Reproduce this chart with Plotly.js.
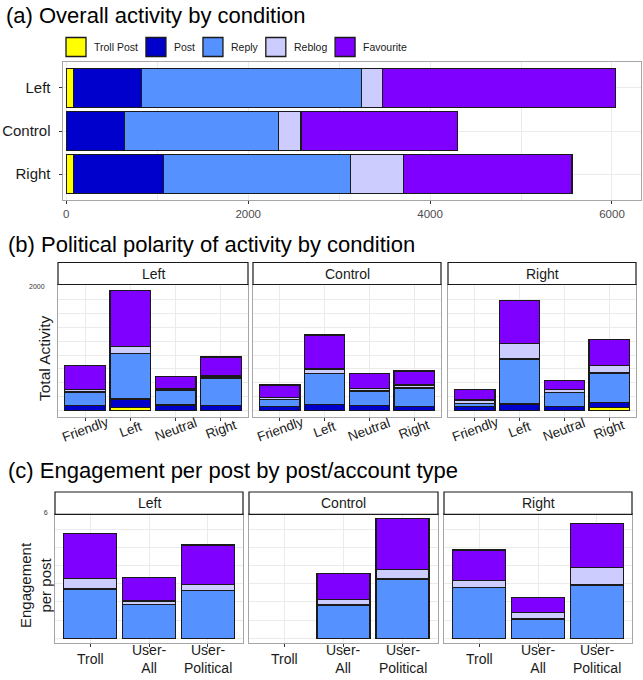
<!DOCTYPE html>
<html>
<head>
<meta charset="utf-8">
<script src="https://cdn.plot.ly/plotly-3.0.1.min.js"></script>
<style>
  html, body { margin: 0; padding: 0; background: #ffffff; }
  #chart { width: 643px; height: 680px; }
</style>
</head>
<body>
<div id="chart"></div>
<script>
// ---------------------------------------------------------------
// Activity types, in stacking order (bottom to top)
// ---------------------------------------------------------------
const activityTypes = ['Troll Post', 'Post', 'Reply', 'Reblog', 'Favourite'];
const activityColours = ['#FFFF00', '#0000CC', '#5591FF', '#CCCCFF', '#8000FF'];

// ---------------------------------------------------------------
// (a) Overall activity by condition
// ---------------------------------------------------------------
const conditions = ['Left', 'Control', 'Right'];
const overallTrollPost = [77, 0, 81];
const overallPost      = [747, 643, 991];
const overallReply     = [2420, 1687, 2050];
const overallReblog    = [231, 249, 588];
const overallFavourite = [2561, 1720, 1851];

// ---------------------------------------------------------------
// (b) Political polarity of activity, one facet per condition
// ---------------------------------------------------------------
const polarity = ['Friendly', 'Left', 'Neutral', 'Right'];

const leftTrollPost    = [0, 60, 0, 0];
const leftPost         = [87, 150, 99, 90];
const leftReply        = [246, 822, 270, 498];
const leftReblog       = [42, 120, 30, 36];
const leftFavourite    = [432, 1013, 221, 342];

const controlTrollPost = [0, 0, 0, 0];
const controlPost      = [72, 111, 87, 72];
const controlReply     = [133, 558, 264, 336];
const controlReblog    = [29, 78, 48, 54];
const controlFavourite = [228, 611, 270, 252];

const rightTrollPost   = [0, 0, 0, 60];
const rightPost        = [72, 117, 72, 90];
const rightReply       = [61, 809, 259, 528];
const rightReblog      = [60, 282, 54, 132];
const rightFavourite   = [192, 767, 162, 468];

const activityGrid     = [0, 250, 500, 750, 1000, 1250, 1500, 1750, 2000];
const activityGridText = ['', '', '', '', '', '', '', '', '2000'];

// ---------------------------------------------------------------
// (c) Engagement per post by post/account type
// ---------------------------------------------------------------
const postTypes      = ['Troll', 'User-All', 'User-Political'];
const postTypeLabels = ['Troll', 'User-<br>All', 'User-<br>Political'];

const leftEngReply        = [2.71, 1.87, 2.62];
const leftEngReblog       = [0.58, 0.18, 0.34];
const leftEngFavourite    = [2.47, 1.28, 2.16];

const controlEngReply     = [0, 1.83, 3.26];
const controlEngReblog    = [0, 0.31, 0.53];
const controlEngFavourite = [0, 1.43, 2.80];

const rightEngReply       = [2.80, 1.06, 2.93];
const rightEngReblog      = [0.36, 0.37, 0.97];
const rightEngFavourite   = [1.69, 0.82, 2.41];

const engagementGrid     = [0, 1, 2, 3, 4, 5, 6];
const engagementGridText = ['', '', '', '', '', '', '6'];

// ---------------------------------------------------------------
// Page geometry helpers (pixel -> paper)
// ---------------------------------------------------------------
const W = 643, H = 680;
const px = v => v / W;
const py = v => 1 - v / H;
const FONT = '"Liberation Sans", Arial, Helvetica, sans-serif';
const GRID = '#ebebeb';
const BORDER = '#a6a6a6';
const BAR_LINE = { color: '#1a1a1a', width: 1.3 };
const noZero = arr => arr.map(v => (v === 0 ? null : v));

const traces = [];

// (a) horizontal stacked bars
const overallSeries = [overallTrollPost, overallPost, overallReply, overallReblog, overallFavourite];
overallSeries.forEach((vals, i) => {
  traces.push({
    type: 'bar', orientation: 'h', name: activityTypes[i],
    x: noZero(vals), y: conditions,
    marker: { color: activityColours[i], line: BAR_LINE },
    xaxis: 'x', yaxis: 'y', showlegend: false, hoverinfo: 'x+name'
  });
});

// (b) stacked columns per condition facet
const polaritySeries = [
  [leftTrollPost, leftPost, leftReply, leftReblog, leftFavourite],
  [controlTrollPost, controlPost, controlReply, controlReblog, controlFavourite],
  [rightTrollPost, rightPost, rightReply, rightReblog, rightFavourite]
];
polaritySeries.forEach((group, k) => {
  group.forEach((vals, i) => {
    traces.push({
      type: 'bar', name: activityTypes[i],
      x: polarity, y: noZero(vals),
      marker: { color: activityColours[i], line: BAR_LINE },
      xaxis: 'x' + (k + 2), yaxis: 'y' + (k + 2), showlegend: false
    });
  });
});

// (c) engagement columns (replies, reblogs, favourites)
const engagementSeries = [
  [leftEngReply, leftEngReblog, leftEngFavourite],
  [controlEngReply, controlEngReblog, controlEngFavourite],
  [rightEngReply, rightEngReblog, rightEngFavourite]
];
engagementSeries.forEach((group, k) => {
  group.forEach((vals, j) => {
    const i = j + 2;
    traces.push({
      type: 'bar', name: activityTypes[i],
      x: postTypes, y: noZero(vals),
      marker: { color: activityColours[i], line: BAR_LINE },
      xaxis: 'x' + (k + 5), yaxis: 'y' + (k + 5), showlegend: false
    });
  });
});

// ---------------------------------------------------------------
// Layout
// ---------------------------------------------------------------
const frame = { showline: true, mirror: true, linecolor: BORDER, linewidth: 1, zeroline: false };

const layout = {
  width: W, height: H,
  margin: { l: 0, r: 0, t: 0, b: 0, pad: 0 },
  paper_bgcolor: '#ffffff', plot_bgcolor: '#ffffff',
  font: { family: FONT, color: '#1a1a1a' },
  barmode: 'stack', bargap: 0.1,
  showlegend: false,
  title: {
    text: '(a) Overall activity by condition',
    xref: 'container', yref: 'container',
    x: px(6), xanchor: 'left', y: py(15), yanchor: 'middle',
    font: { size: 22, color: '#000000', family: FONT }
  },
  xaxis: Object.assign({
    domain: [px(62.5), px(641)], anchor: 'y',
    range: [-42, 6319], tickmode: 'linear', tick0: 0, dtick: 2000,
    showgrid: true, gridcolor: GRID,
    minor: { dtick: 1000, showgrid: true, gridcolor: GRID, ticks: '' },
    ticks: 'outside', ticklen: 3, tickcolor: '#333333',
    tickfont: { size: 11.5, color: '#4d4d4d' }
  }, frame),
  yaxis: Object.assign({
    domain: [py(200), py(62)], anchor: 'x',
    type: 'category', categoryorder: 'array', categoryarray: conditions,
    range: [2.6, -0.6],
    showgrid: true, gridcolor: GRID,
    ticks: 'outside', ticklen: 3, tickcolor: '#333333', ticklabelstandoff: 5,
    tickfont: { size: 15, color: '#1a1a1a' }
  }, frame),
  shapes: [],
  annotations: []
};

// (b) facet axes
const bX = [[58, 248], [253, 441], [448, 636]];
bX.forEach((d, k) => {
  const n = k + 2;
  layout['xaxis' + n] = Object.assign({
    domain: [px(d[0]), px(d[1])], anchor: 'y' + n,
    type: 'category', categoryorder: 'array', categoryarray: polarity,
    range: [-0.6, 3.6], showticklabels: false,
    showgrid: true, gridcolor: GRID,
    ticks: 'outside', ticklen: 3, tickcolor: '#333333'
  }, frame);
  layout['yaxis' + n] = Object.assign({
    domain: [py(417), py(285)], anchor: 'x' + n,
    range: [-115, 2260],
    tickmode: 'array', tickvals: activityGrid, ticktext: activityGridText,
    showticklabels: k === 0, ticklabelshift: -13, ticklabelstandoff: 11,
    tickfont: { size: 7, color: '#333333' },
    showgrid: true, gridcolor: GRID, ticks: ''
  }, frame);
});

// (c) facet axes
const cX = [[55, 243], [249, 438], [444, 632]];
cX.forEach((d, k) => {
  const n = k + 5;
  layout['xaxis' + n] = Object.assign({
    domain: [px(d[0]), px(d[1])], anchor: 'y' + n,
    type: 'category', categoryorder: 'array', categoryarray: postTypes,
    range: [-0.6, 2.6], showticklabels: false,
    showgrid: true, gridcolor: GRID,
    ticks: 'outside', ticklen: 3, tickcolor: '#333333'
  }, frame);
  layout['yaxis' + n] = Object.assign({
    domain: [py(643), py(514.3)], anchor: 'x' + n,
    range: [-0.26, 6.81],
    tickmode: 'array', tickvals: engagementGrid, ticktext: engagementGridText,
    showticklabels: k === 0, ticklabelshift: -16, ticklabelstandoff: 5,
    tickfont: { size: 7, color: '#333333' },
    showgrid: true, gridcolor: GRID, ticks: ''
  }, frame);
});

// Facet strips
function addStrip(axisNum, label, top, bottom) {
  layout.shapes.push({
    type: 'rect', xref: 'x' + axisNum + ' domain', yref: 'paper',
    x0: 0, x1: 1, y0: py(bottom), y1: py(top),
    fillcolor: '#ffffff', line: { color: '#1a1a1a', width: 1.2 }, layer: 'above'
  });
  layout.annotations.push({
    xref: 'x' + axisNum + ' domain', yref: 'paper',
    x: 0.5, y: py((top + bottom) / 2), xanchor: 'center', yanchor: 'middle',
    text: label, showarrow: false, font: { size: 14, color: '#1a1a1a' }
  });
}
conditions.forEach((c, k) => addStrip(k + 2, c, 262.5, 284.5));
conditions.forEach((c, k) => addStrip(k + 5, c, 492, 514.3));

// Section titles (b) and (c)
layout.annotations.push({
  xref: 'paper', yref: 'paper', x: px(6), y: py(244), xanchor: 'left', yanchor: 'middle',
  text: '(b) Political polarity of activity by condition', showarrow: false,
  font: { size: 22, color: '#000000' }
});
layout.annotations.push({
  xref: 'paper', yref: 'paper', x: px(6), y: py(470), xanchor: 'left', yanchor: 'middle',
  text: '(c) Engagement per post by post/account type', showarrow: false,
  font: { size: 22, color: '#000000' }
});

// Y-axis titles
layout.annotations.push({
  xref: 'paper', yref: 'paper', x: px(44), y: py(358), xanchor: 'center', yanchor: 'middle',
  text: 'Total Activity', textangle: -90, showarrow: false,
  font: { size: 15.5, color: '#1a1a1a' }
});
layout.annotations.push({
  xref: 'paper', yref: 'paper', x: px(35), y: py(585), xanchor: 'center', yanchor: 'middle',
  text: 'Engagement<br>per post', textangle: -90, showarrow: false,
  font: { size: 15, color: '#1a1a1a' }
});

// Category labels under the facets
conditions.forEach((c, k) => {
  polarity.forEach(p => {
    layout.annotations.push({
      xref: 'x' + (k + 2), yref: 'paper', x: p, y: py(429),
      xanchor: 'center', yanchor: 'middle', textangle: -20,
      text: p, showarrow: false, font: { size: 13.5, color: '#1a1a1a' }
    });
  });
  postTypes.forEach((p, j) => {
    layout.annotations.push({
      xref: 'x' + (k + 5), yref: 'paper', x: p, y: py(659),
      xanchor: 'center', yanchor: 'middle',
      text: postTypeLabels[j], showarrow: false,
      font: { size: 14, color: '#1a1a1a' }
    });
  });
});

// Legend row for panel (a): square keys followed by their names
(function buildLegend() {
  const fontSize = 10.5;
  const ctx = document.createElement('canvas').getContext('2d');
  ctx.font = fontSize + 'px "Liberation Sans", Arial, sans-serif';
  let x = 66;
  const top = 37.5, bottom = 56.5, mid = (top + bottom) / 2;
  activityTypes.forEach((name, i) => {
    layout.shapes.push({
      type: 'rect', xref: 'paper', yref: 'paper',
      x0: px(x), x1: px(x + 20), y0: py(bottom), y1: py(top),
      fillcolor: activityColours[i], line: { color: '#1a1a1a', width: 1.3 }
    });
    const textX = x + 26;
    layout.annotations.push({
      xref: 'paper', yref: 'paper', x: px(textX), y: py(mid),
      xanchor: 'left', yanchor: 'middle', text: name, showarrow: false,
      font: { size: fontSize, color: '#1a1a1a' }
    });
    x = textX + ctx.measureText(name).width + 10;
  });
})();

Plotly.newPlot('chart', traces, layout, { displayModeBar: false, staticPlot: true });
</script>
</body>
</html>
